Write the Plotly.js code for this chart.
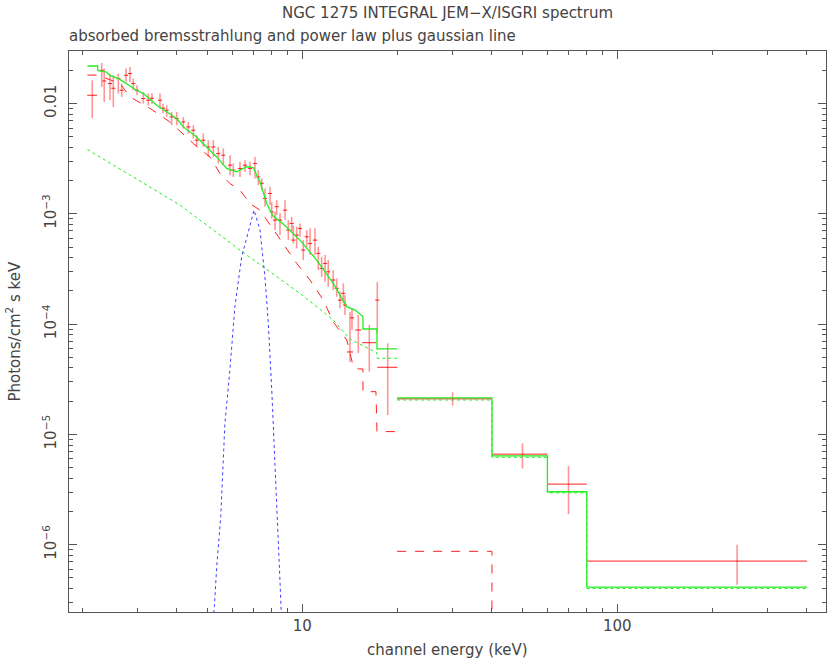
<!DOCTYPE html>
<html>
<head>
<meta charset="utf-8">
<script src="https://cdn.plot.ly/plotly-3.0.1.min.js"></script>
<style>html,body{margin:0;padding:0;background:#fff;}#chart{width:830px;height:665px;}</style>
</head>
<body>
<div id="chart"></div>
<script>
// ---- JEM-X data (keV, photons/cm^2/s/keV) ----
const dataE = [2.154,2.308,2.351,2.452,2.512,2.606,2.671,2.756,2.838,2.907,
  2.987,3.128,3.244,3.333,3.534,3.612,3.711,3.849,3.993,4.191,
  4.347,4.508,4.622,4.851,5.031,5.219,5.412,5.614,5.896,6.039,
  6.341,6.578,6.823,7.076,7.249,7.432,7.613,7.898,7.997,8.192,
  8.294,8.497,8.813,9.029,9.254,9.363,9.598,9.833,10.07,10.33,
  10.58,10.97,11.24,11.52,11.81,12.09,12.54,12.86,13.17,13.50,
  13.66,14.17,14.38,15.06,16.32,17.30,18.67];
const dataEhalf = [0.078,0.035,0.035,0.037,0.038,0.039,0.040,0.041,0.043,0.044,
  0.045,0.047,0.049,0.050,0.053,0.054,0.056,0.058,0.060,0.063,
  0.065,0.068,0.069,0.073,0.075,0.078,0.081,0.084,0.088,0.091,
  0.095,0.099,0.102,0.106,0.109,0.111,0.114,0.118,0.120,0.123,
  0.124,0.127,0.132,0.135,0.139,0.140,0.144,0.147,0.151,0.155,
  0.159,0.165,0.169,0.173,0.177,0.181,0.188,0.193,0.198,0.203,
  0.205,0.32,0.216,0.34,0.84,0.26,1.37];
const dataF = [0.01189,0.02002,0.01602,0.01518,0.01376,0.01684,0.01320,0.01805,0.01869,0.01518,
  0.01320,0.01110,0.01071,0.01117,0.01071,9.07e-3,8.69e-3,7.56e-3,7.31e-3,6.81e-3,
  6.14e-3,5.73e-3,4.65e-3,4.65e-3,4.04e-3,4.04e-3,3.52e-3,3.40e-3,2.76e-3,2.49e-3,
  2.58e-3,2.76e-3,2.58e-3,2.86e-3,2.16e-3,1.89e-3,1.38e-3,1.53e-3,1.04e-3,8.77e-4,
  1.16e-3,8.77e-4,1.08e-3,7.12e-4,8.18e-4,5.78e-4,6.41e-4,7.38e-4,4.69e-4,6.19e-4,
  5.39e-4,5.78e-4,4.38e-4,3.20e-4,3.55e-4,2.98e-4,2.51e-4,2.11e-4,1.65e-4,1.90e-4,
  1.49e-4,5.59e-5,1.14e-4,8.84e-5,6.78e-5,1.65e-4,4.06e-5];
const dataHi = [0.01626,0.02332,0.02075,0.01869,0.01805,0.01869,0.01518,0.02075,0.02145,0.01684,
  0.01465,0.01274,0.01232,0.01240,0.01232,9.94e-3,9.65e-3,8.39e-3,8.39e-3,7.56e-3,
  6.81e-3,6.36e-3,5.16e-3,5.35e-3,4.65e-3,4.65e-3,4.04e-3,3.91e-3,3.40e-3,2.86e-3,
  2.96e-3,3.06e-3,2.96e-3,3.28e-3,2.49e-3,2.09e-3,1.70e-3,1.76e-3,1.28e-3,1.04e-3,
  1.33e-3,1.01e-3,1.33e-3,8.77e-4,9.39e-4,7.90e-4,7.62e-4,8.18e-4,5.78e-4,7.12e-4,
  7.38e-4,7.38e-4,5.02e-4,4.08e-4,4.23e-4,3.81e-4,3.08e-4,2.60e-4,1.97e-4,2.34e-4,
  1.83e-4,1.29e-4,1.40e-4,1.21e-4,9.81e-5,2.40e-4,6.70e-5];
const dataLo = [7.36e-3,0.01414,0.01034,0.01071,9.31e-3,0.01232,0.01148,0.01570,0.01570,0.01320,
  0.01189,0.01,9.65e-3,9.94e-3,9.01e-3,8.17e-3,7.56e-3,6.36e-3,6.36e-3,5.94e-3,
  5.35e-3,4.82e-3,4.04e-3,4.04e-3,3.28e-3,3.28e-3,2.86e-3,2.76e-3,2.24e-3,2.16e-3,
  2.16e-3,2.40e-3,2.24e-3,2.09e-3,1.82e-3,1.64e-3,1.16e-3,1.20e-3,9.08e-4,7.12e-4,
  9.73e-4,6.41e-4,8.77e-4,5.78e-4,6.87e-4,5.39e-4,4.86e-4,6.19e-4,3.81e-4,5.02e-4,
  4.23e-4,4.23e-4,3.08e-4,2.69e-4,2.42e-4,2.18e-4,2.04e-4,1.77e-4,1.39e-4,1.54e-4,
  1.21e-4,4.54e-5,8.84e-5,5.47e-5,3.71e-5,8.31e-5,1.50e-5];

// ---- ISGRI data ----
const isgriE   = [30, 50, 70, 240];
const isgriElo = [20, 40, 60, 80];
const isgriEhi = [40, 60, 80, 400];
const isgriF   = [2.10e-5, 6.62e-6, 3.54e-6, 7.1e-7];
const isgriHi  = [2.41e-5, 8.32e-6, 5.15e-6, 1.0e-6];
const isgriLo  = [1.82e-5, 4.90e-6, 1.89e-6, 4.34e-7];

// ---- Models (JEM-X range) ----
const totE = [2.08,2.24,2.24,2.39,2.45,2.61,2.98,3.13,3.45,3.99,4.19,4.62,4.97,5.35,5.75,6.19,6.66,6.99,7.17,7.34,7.71,8.07,8.70,9.83,11.11,12.54,13.84,14.70,15.58,15.58,17.26,17.26,20.0];
const totF = [0.0219,0.0219,0.0200,0.0193,0.0180,0.01684,0.0132,0.01232,9.65e-3,7.31e-3,6.14e-3,4.98e-3,4.04e-3,3.28e-3,2.58e-3,2.40e-3,2.67e-3,2.63e-3,2.24e-3,1.95e-3,1.24e-3,9.6e-4,8.1e-4,5.78e-4,3.81e-4,2.34e-4,1.44e-4,1.34e-4,1.17e-4,9.03e-5,9.03e-5,5.95e-5,5.95e-5];
const bremE = [2.08,2.24,2.64,2.84,3.29,3.80,4.51,5.09,5.48,5.89,6.34,6.82,7.34,7.71,8.70,9.60,10.58,11.66,12.54,13.84,14.52,15.07,15.58,15.58,17.13,17.26,20.0];
const bremF = [0.0181,0.0181,0.01518,0.01148,9.01e-3,6.81e-3,4.34e-3,3.28e-3,2.32e-3,1.886e-3,1.64e-3,1.24e-3,1.08e-3,8.77e-4,5.40e-4,3.55e-4,2.51e-4,1.65e-4,1.045e-4,7.18e-5,4.11e-5,3.92e-5,3.92e-5,2.44e-5,2.44e-5,1.06e-5,1.06e-5];
const plE = [2.08,4.09,6.34,9.83,12.54,14.17,17.26,17.26,20.0];
const plF = [3.83e-3,1.20e-3,4.69e-4,1.90e-4,1.09e-4,7.3e-5,5.5e-5,4.90e-5,4.90e-5];
const gaussE = [5.10,5.26,5.35,5.51,5.68,5.89,6.11,6.42,7.03,7.34,7.61,7.80,8.00,8.15,8.29,8.43,8.56,8.70];
const gaussF = [1e-7,2.76e-7,6.34e-7,1.80e-6,1.26e-5,3.84e-5,1.44e-4,4.08e-4,1.08e-3,7.12e-4,2.69e-4,1.02e-4,2.53e-5,7.75e-6,3.14e-6,7.82e-7,2.76e-7,1e-7];

// ---- Models (ISGRI range, step over bins) ----
const isgriEdges = [20, 40, 60, 80, 400];
const isgriTot  = [2.14e-5, 6.38e-6, 3.02e-6, 4.13e-7, 4.13e-7];
const isgriPL   = [2.05e-5, 6.2e-6, 2.95e-6, 4.0e-7, 4.0e-7];
const isgriBremE = [20, 40, 40];
const isgriBremF = [8.7e-7, 8.7e-7, 1e-8];

// ---- Axis ticks ----
const xMajor = [10, 100];
const xMajorText = ['10', '100'];
const xMinor = [2,3,4,5,6,7,8,9,20,30,40,50,60,70,80,90,200,300,400];
const yMajor = [1e-6, 1e-5, 1e-4, 1e-3, 1e-2];
const yMajorText = ['10<sup>\u22126</sup>','10<sup>\u22125</sup>','10<sup>\u22124</sup>','10<sup>\u22123</sup>','0.01'];
const yMinor = [3e-7,4e-7,5e-7,6e-7,7e-7,8e-7,9e-7,
  2e-6,3e-6,4e-6,5e-6,6e-6,7e-6,8e-6,9e-6,
  2e-5,3e-5,4e-5,5e-5,6e-5,7e-5,8e-5,9e-5,
  2e-4,3e-4,4e-4,5e-4,6e-4,7e-4,8e-4,9e-4,
  2e-3,3e-3,4e-3,5e-3,6e-3,7e-3,8e-3,9e-3,2e-2];

const RED = '#ff2020', PINK = 'rgba(255,80,80,0.6)', GREEN = '#22ee22', BLUE = '#4040ff';
const FONT = 'DejaVu Sans';
const TXT = '#444';

const traces = [
  { x: dataE, y: dataF, type: 'scatter', mode: 'markers',
    marker: { size: 1, color: RED },
    error_y: { type: 'data', symmetric: false,
      array: dataF.map((v,i)=>dataHi[i]-v), arrayminus: dataF.map((v,i)=>v-dataLo[i]),
      color: PINK, thickness: 1.6, width: 0 },
    error_x: { type: 'data', array: dataEhalf, color: RED, thickness: 1, width: 0 } },
  { x: isgriE, y: isgriF, type: 'scatter', mode: 'markers',
    marker: { size: 1, color: RED },
    error_y: { type: 'data', symmetric: false,
      array: isgriF.map((v,i)=>isgriHi[i]-v), arrayminus: isgriF.map((v,i)=>v-isgriLo[i]),
      color: PINK, thickness: 1.6, width: 0 },
    error_x: { type: 'data', symmetric: false,
      array: isgriE.map((v,i)=>isgriEhi[i]-v), arrayminus: isgriE.map((v,i)=>v-isgriElo[i]),
      color: RED, thickness: 1, width: 0 } },
  { x: bremE, y: bremF, type: 'scatter', mode: 'lines',
    line: { color: RED, width: 1, dash: 'dash' } },
  { x: isgriBremE, y: isgriBremF, type: 'scatter', mode: 'lines',
    line: { color: RED, width: 1, dash: 'dash' } },
  { x: plE, y: plF, type: 'scatter', mode: 'lines',
    line: { color: GREEN, width: 1, dash: '3px,3px' } },
  { x: isgriEdges, y: isgriPL, type: 'scatter', mode: 'lines',
    line: { color: GREEN, width: 1, dash: '3px,3px', shape: 'hv' } },
  { x: gaussE, y: gaussF, type: 'scatter', mode: 'lines',
    line: { color: BLUE, width: 1, dash: 'dot' } },
  { x: totE, y: totF, type: 'scatter', mode: 'lines',
    line: { color: GREEN, width: 1.3 } },
  { x: isgriEdges, y: isgriTot, type: 'scatter', mode: 'lines',
    line: { color: GREEN, width: 1.3, shape: 'hv' } }
];

const layout = {
  width: 830, height: 665,
  margin: { l: 69, r: 4, t: 51, b: 53 },
  paper_bgcolor: '#fff', plot_bgcolor: '#fff',
  showlegend: false,
  font: { family: FONT, size: 15, color: TXT },
  xaxis: {
    type: 'log', range: [0.2594, 2.6625], autorange: false,
    showgrid: false, zeroline: false,
    showline: true, mirror: 'allticks', linecolor: '#555', linewidth: 1,
    ticks: 'inside', ticklen: 8, tickwidth: 1, tickcolor: '#555',
    tickmode: 'array', tickvals: xMajor, ticktext: xMajorText,
    tickfont: { family: FONT, size: 15, color: TXT },
    minor: { tickmode: 'array', tickvals: xMinor, ticks: 'inside', ticklen: 4, tickwidth: 1, tickcolor: '#555', showgrid: false }
  },
  yaxis: {
    type: 'log', range: [-6.6105, -1.5236], autorange: false,
    showgrid: false, zeroline: false,
    showline: true, mirror: 'allticks', linecolor: '#555', linewidth: 1,
    ticks: 'inside', ticklen: 8, tickwidth: 1, tickcolor: '#555',
    tickmode: 'array', tickvals: yMajor, ticktext: yMajorText, tickangle: -90,
    ticklabelstandoff: 6,
    tickfont: { family: FONT, size: 15, color: TXT },
    minor: { tickmode: 'array', tickvals: yMinor, ticks: 'inside', ticklen: 4, tickwidth: 1, tickcolor: '#555', showgrid: false }
  },
  annotations: [
    { text: 'NGC 1275 INTEGRAL JEM\u2212X/ISGRI spectrum', xref: 'paper', yref: 'paper',
      x: 0.5, y: 1, xanchor: 'center', yanchor: 'bottom', yshift: 27, showarrow: false,
      font: { family: FONT, size: 15, color: TXT } },
    { text: 'absorbed bremsstrahlung and power law plus gaussian line', xref: 'paper', yref: 'paper',
      x: 0, y: 1, xanchor: 'left', yanchor: 'bottom', yshift: 4, xshift: -2, showarrow: false,
      font: { family: FONT, size: 15, color: TXT } },
    { text: 'channel energy (keV)', xref: 'paper', yref: 'paper',
      x: 0.5, y: 0, xanchor: 'center', yanchor: 'top', yshift: -27, showarrow: false,
      font: { family: FONT, size: 15, color: TXT } },
    { text: 'Photons/cm<sup>2</sup> s keV', xref: 'paper', yref: 'paper',
      x: 0, y: 0.5, xanchor: 'right', yanchor: 'middle', xshift: -44, textangle: -90, showarrow: false,
      font: { family: FONT, size: 15, color: TXT } }
  ]
};

Plotly.newPlot('chart', traces, layout, { displayModeBar: false, staticPlot: true });
</script>
</body>
</html>
